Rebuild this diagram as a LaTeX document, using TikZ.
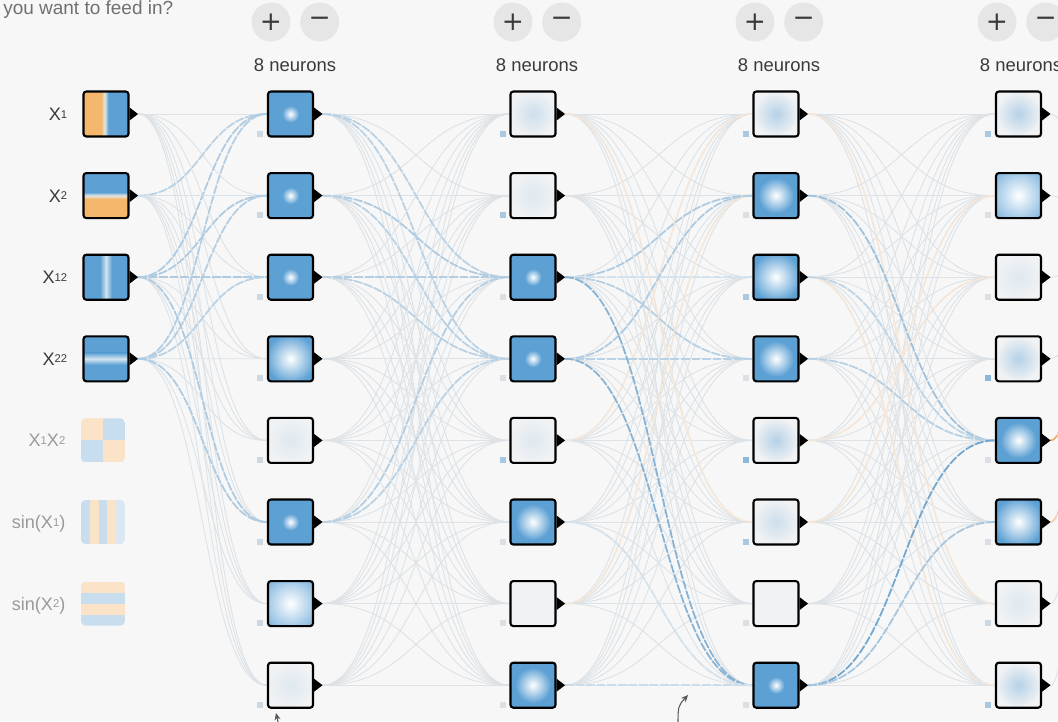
\documentclass[tikz,border=0pt]{standalone}
\usepackage{fontspec}
\setmainfont{Liberation Sans}
\newfontfamily\symfont{DejaVu Sans}
\usetikzlibrary{positioning}
\usetikzlibrary{arrows.meta}

\definecolor{paper}{HTML}{F7F7F7}
\definecolor{cell}{HTML}{F0F2F4}
\definecolor{nblue}{HTML}{5CA0D4}
\definecolor{inorange}{HTML}{F5B76C}
\definecolor{stripe}{HTML}{E2E5E2}
\definecolor{ice}{HTML}{D3E4F1}
\definecolor{pbl}{HTML}{C8DDEE}
\definecolor{por}{HTML}{FAE3C6}
\definecolor{lk}{HTML}{DDE2E6}
\definecolor{lb}{HTML}{5596C8}
\definecolor{lo}{HTML}{F0A04A}
\definecolor{txt}{HTML}{3A3A3A}
\definecolor{dim}{HTML}{9A9A9A}
\definecolor{ask}{HTML}{707070}
\definecolor{btn}{HTML}{E6E6E6}
\definecolor{bq}{HTML}{CCD7E0}
\definecolor{bg}{HTML}{DCDFE3}
\definecolor{bb}{HTML}{A9C8E1}
\definecolor{bd}{HTML}{8DB7DA}

\newcommand{\ppb}{path picture bounding box}
\newcommand{\xs}[1]{\raisebox{0.25ex}{\fontsize{6.4}{7}\selectfont #1}}

\pgfdeclarelayer{back}
\pgfdeclarelayer{links}
\pgfsetlayers{back,links,main}

\tikzset{unit/.style={draw=black,line width=1.2pt,rounded corners=1.6pt,fill=cell,minimum size=0.9cm,inner sep=0pt}}
\tikzset{glow/.style={unit,path picture={\fill[nblue,sharp corners] (\ppb.south west) rectangle (\ppb.north east);
\shade[inner color=white,outer color=nblue] (\ppb.center) circle (#1);}}}
\tikzset{hd/.style={glow=0.17cm},hm/.style={glow=0.36cm},hl/.style={glow=0.5cm},hb/.style={glow=0.8cm}}
\tikzset{pale/.style={unit,path picture={\shade[inner color=nblue!#1!cell,outer color=cell] (\ppb.center) circle (0.42cm);}}}
\tikzset{pz/.style={pale=0},pa/.style={pale=12},pb/.style={pale=24},pc/.style={pale=40}}
\tikzset{bs/.style={fill=#1,minimum size=0.12cm,inner sep=0pt}}
\tikzset{fd/.style={rounded corners=2.5pt,minimum size=0.88cm,inner sep=0pt}}
\tikzset{lab/.style={inner sep=0pt,text height=7.4pt,text depth=0pt,font=\fontsize{10.3}{12}\selectfont}}
\tikzset{pm/.style={circle,fill=btn,minimum size=0.78cm,inner sep=0pt,text=txt,font=\symfont\fontsize{15}{15}\selectfont}}
\tikzset{ln/.style={draw=lk,line width=0.5pt}}
\tikzset{hot/.style={draw=lb!#1!paper,line width=1pt,dash pattern=on 5pt off 1pt}}
\tikzset{warm/.style={draw=lo!#1!paper,line width=1pt,dash pattern=on 5pt off 1pt}}
\tikzset{tip/.style={fill=black}}
\tikzset{note/.style={draw=gray!70!black,line width=0.6pt,-{Stealth[length=4pt,width=3.5pt]}}}

% input feature pictures
\tikzset{xa/.style={unit,path picture={
\fill[inorange,sharp corners] (\ppb.south west) rectangle (\ppb.north east);
\shade[left color=inorange,right color=nblue,middle color=stripe,sharp corners] ([xshift=-0.1cm]\ppb.south) rectangle ([xshift=0.05cm]\ppb.north);
\fill[nblue,sharp corners] ([xshift=0.05cm]\ppb.south) rectangle (\ppb.north east);}}}
\tikzset{xb/.style={unit,path picture={
\fill[nblue,sharp corners] (\ppb.south west) rectangle (\ppb.north east);
\shade[top color=nblue,bottom color=inorange,middle color=stripe,sharp corners] ([yshift=0.07cm]\ppb.west) rectangle ([yshift=-0.07cm]\ppb.east);
\fill[inorange,sharp corners] ([yshift=-0.07cm]\ppb.west) rectangle (\ppb.south east);}}}
\tikzset{xc/.style={unit,path picture={
\fill[nblue,sharp corners] (\ppb.south west) rectangle (\ppb.north east);
\shade[left color=nblue,right color=nblue,middle color=ice,sharp corners] ([xshift=-0.12cm]\ppb.south) rectangle ([xshift=0.12cm]\ppb.north);}}}
\tikzset{xd/.style={unit,path picture={
\fill[nblue,sharp corners] (\ppb.south west) rectangle (\ppb.north east);
\shade[top color=nblue,bottom color=nblue,middle color=ice,sharp corners] ([yshift=0.12cm]\ppb.west) rectangle ([yshift=-0.12cm]\ppb.east);}}}
\tikzset{xe/.style={fd,path picture={
\fill[por,sharp corners] (\ppb.north west) rectangle (\ppb.center);
\fill[pbl,sharp corners] (\ppb.north east) rectangle (\ppb.center);
\fill[pbl,sharp corners] (\ppb.south west) rectangle (\ppb.center);
\fill[por,sharp corners] (\ppb.south east) rectangle (\ppb.center);}}}
\tikzset{xf/.style={fd,path picture={
\foreach \k/\c in {0/pbl,1/por,2/pbl,3/por,4/pbl!60!paper}
\fill[\c,sharp corners] ([xshift=\k*0.176cm]\ppb.south west) rectangle ([xshift=\k*0.176cm+0.176cm]\ppb.north west);}}}
\tikzset{xg/.style={fd,path picture={
\foreach \k/\c in {0/por,1/pbl,2/por,3/pbl}
\fill[\c,sharp corners] ([yshift=-\k*0.22cm]\ppb.north west) rectangle ([yshift=-\k*0.22cm-0.22cm]\ppb.north east);}}}

\begin{document}
\begin{tikzpicture}[x=0.02cm,y=-0.02cm]
\useasboundingbox (0,0) rectangle (1058,721);
\begin{pgfonlayer}{back}
\fill[paper] (0,0) rectangle (1058,721);
\end{pgfonlayer}

\node[anchor=base west,inner sep=0pt,text=ask,font=\fontsize{10.8}{12}\selectfont] (q) at (3,14) {you want to feed in?};

% features
\node[xa] (h-0-1) at (106,114) {};
\node[xb] (h-0-2) at (106,195.6) {};
\node[xc] (h-0-3) at (106,277.2) {};
\node[xd] (h-0-4) at (106,358.8) {};
\node[xe] (h-0-5) at (103,440.4) {};
\node[xf] (h-0-6) at (103,522) {};
\node[xg] (h-0-7) at (103,603.6) {};

\node[lab,text=txt,left=0.3cm of h-0-1] (t-1) {X\xs{1}};
\node[lab,text=txt,left=0.3cm of h-0-2] (t-2) {X\xs{2}};
\node[lab,text=txt,left=0.3cm of h-0-3] (t-3) {X\xs{12}};
\node[lab,text=txt,left=0.3cm of h-0-4] (t-4) {X\xs{22}};
\node[lab,text=dim,left=0.3cm of h-0-5] (t-5) {X\xs{1}X\xs{2}};
\node[lab,text=dim,left=0.3cm of h-0-6] (t-6) {sin(X\xs{1})};
\node[lab,text=dim,left=0.3cm of h-0-7] (t-7) {sin(X\xs{2})};

% hidden layers
\foreach \s/\c [count=\i] in {hd/bq,hd/bq,hd/bq,hl/bq,pa/bq,hd/bq,hb/bq,pa/bq}{
\node[\s] (h-1-\i) at (290.5,32.4+81.6*\i) {};
\node[bs=\c] (b-1-\i) at ([xshift=-0.13cm,yshift=0.08cm]h-1-\i.south west) {};}
\foreach \s/\c [count=\i] in {pb/bb,pa/bb,hd/bg,hd/bg,pa/bb,hm/bg,pz/bg,hm/bg}{
\node[\s] (h-2-\i) at (533,32.4+81.6*\i) {};
\node[bs=\c] (b-2-\i) at ([xshift=-0.13cm,yshift=0.08cm]h-2-\i.south west) {};}
\foreach \s/\c [count=\i] in {pc/bb,hm/bg,hl/bb,hm/bg,pc/bd,pb/bb,pz/bg,hd/bg}{
\node[\s] (h-3-\i) at (776,32.4+81.6*\i) {};
\node[bs=\c] (b-3-\i) at ([xshift=-0.13cm,yshift=0.08cm]h-3-\i.south west) {};}
\foreach \s/\c [count=\i] in {pc/bb,hb/bg,pa/bg,pc/bd,hm/bg,hl/bg,pa/bq,pc/bb}{
\node[\s] (h-4-\i) at (1018.5,32.4+81.6*\i) {};
\node[bs=\c] (b-4-\i) at ([xshift=-0.13cm,yshift=0.08cm]h-4-\i.south west) {};}

% output tips
\foreach \l/\n in {0/4,1/8,2/8,3/8,4/8}
\foreach \i in {1,...,\n}
\fill[tip] ([yshift=0.13cm]h-\l-\i.east) -- ([xshift=0.17cm]h-\l-\i.east) coordinate (o-\l-\i) -- ([yshift=-0.13cm]h-\l-\i.east) -- cycle;

% layer controls
\foreach \x [count=\l] in {295,537,779,1021}{
\node[pm] (add-\l) at (\x-24,22) {+};
\node[pm,right=0.18cm of add-\l] (del-\l) {−};
\node[anchor=base,inner sep=0pt,text=txt,font=\fontsize{10.5}{12}\selectfont] (cnt-\l) at (\x,71) {8 neurons};}

\coordinate (out) at (1100,250);

\begin{pgfonlayer}{links}
\foreach \i in {1,...,4}
\foreach \j in {1,...,8}
\draw[ln] (o-0-\i) .. controls +(65,0) and +(-65,0) .. (h-1-\j.west);
\foreach \l/\m in {1/2,2/3,3/4}
\foreach \i in {1,...,8}
\foreach \j in {1,...,8}
\draw[ln] (o-\l-\i) .. controls +(94,0) and +(-94,0) .. (h-\m-\j.west);
\foreach \i in {1,...,8}
\draw[ln] (o-4-\i) .. controls +(25,0) and +(-25,0) .. (out);

\foreach \l/\m/\i/\j in {2/3/5/1,2/3/7/2,2/3/1/6,3/4/5/3,3/4/6/2,3/4/1/7,3/4/3/8}
\draw[warm=18] (o-\l-\i) .. controls +(94,0) and +(-94,0) .. (h-\m-\j.west);

\foreach \i/\j/\v in {2/1/38,3/1/45,4/1/42,2/2/22,3/2/45,4/2/42,3/3/45,4/3/38,3/6/45,4/6/45}
\draw[hot=\v] (o-0-\i) .. controls +(65,0) and +(-65,0) .. (h-1-\j.west);
\foreach \l/\m/\i/\j/\v in {1/2/1/3/38,1/2/1/4/38,1/2/2/3/45,1/2/2/4/38,1/2/3/3/42,1/2/3/4/38,1/2/6/3/42,1/2/6/4/38,
2/3/3/2/45,2/3/4/2/45,2/3/3/3/22,2/3/3/4/40,2/3/4/4/38,2/3/3/8/70,2/3/4/8/70,2/3/8/8/28,2/3/6/8/22,
3/4/2/5/55,3/4/3/5/35,3/4/4/5/40,3/4/8/5/82,3/4/8/6/50}
\draw[hot=\v] (o-\l-\i) .. controls +(94,0) and +(-94,0) .. (h-\m-\j.west);

\draw[warm=80] (o-4-5) .. controls +(25,0) and +(-25,0) .. (out);
\draw[warm=45] (o-4-6) .. controls +(25,0) and +(-25,0) .. (out);
\end{pgfonlayer}

% pointers at the bottom
\coordinate (n1) at (279,726);
\coordinate (n2) at (276,713);
\draw[note] (n1) -- (n2);
\coordinate (n3) at (678,726);
\coordinate (n4) at (688,695);
\draw[note] (n3) .. controls (678,706) .. (n4);
\end{tikzpicture}
\end{document}
